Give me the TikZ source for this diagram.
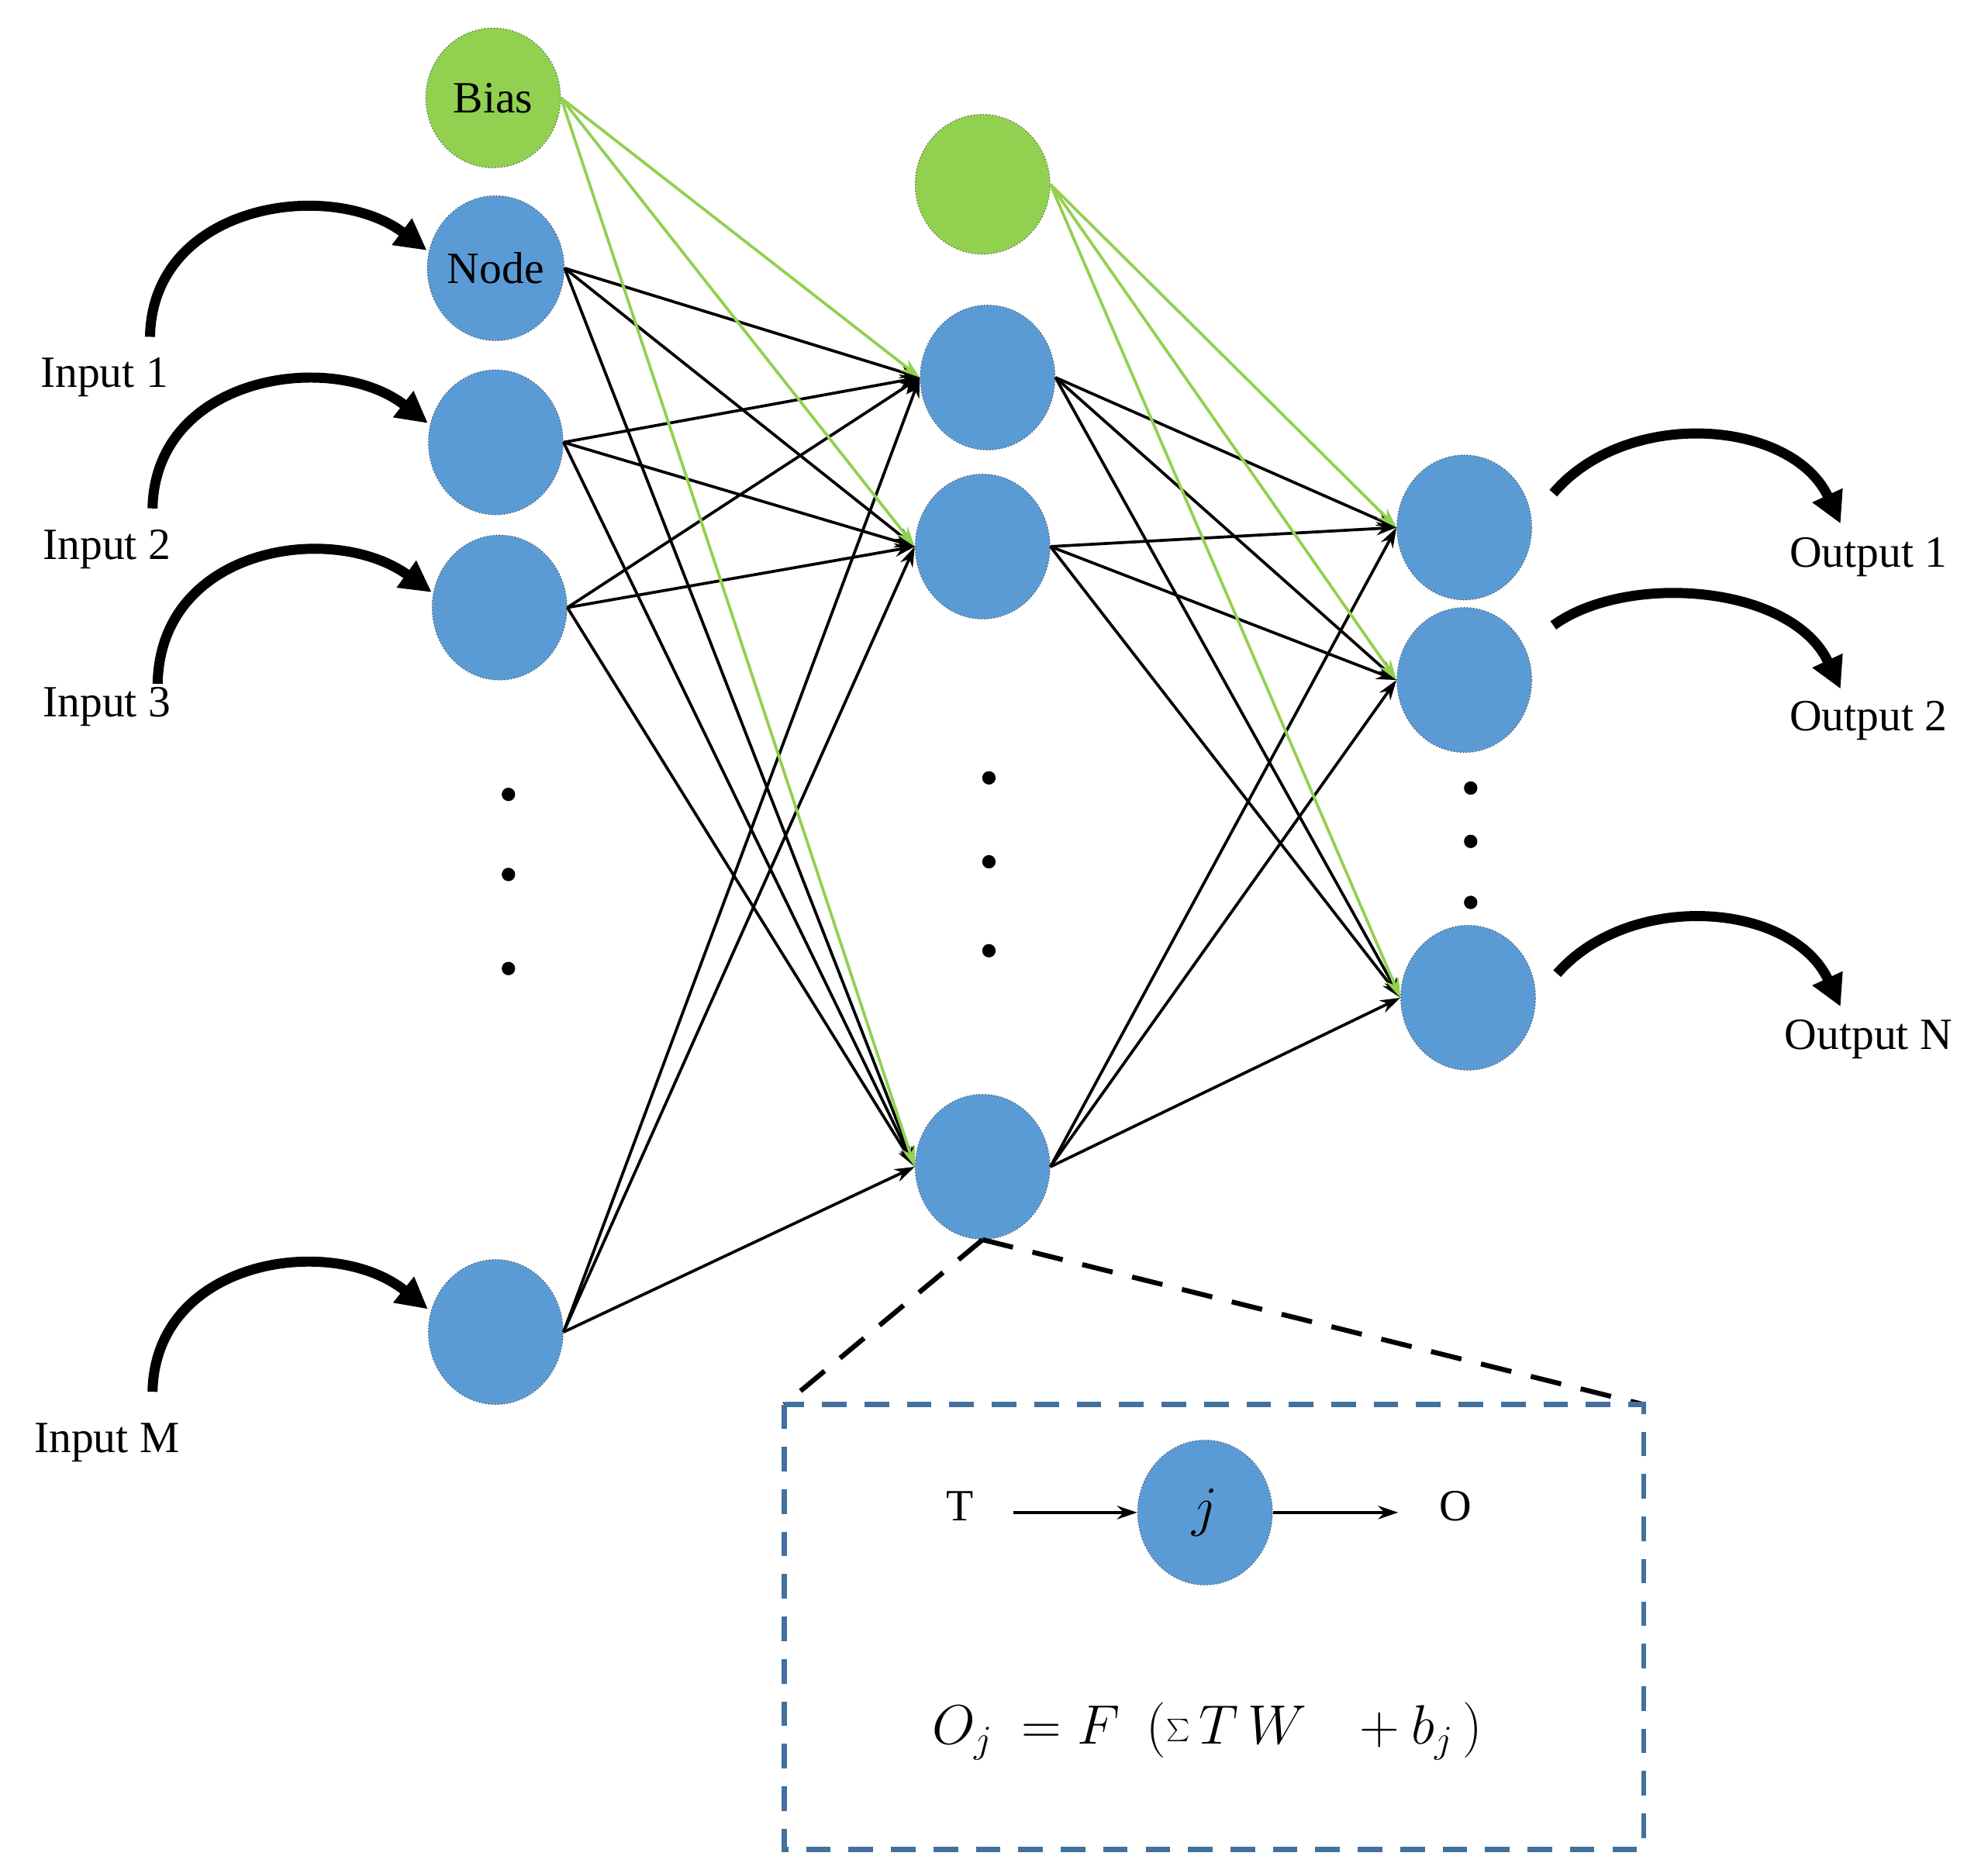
\documentclass[tikz,border=0pt]{standalone}
\usepackage{fontspec}
\setmainfont{Liberation Serif}
\usetikzlibrary{arrows.meta}
\definecolor{nblue}{HTML}{5B9BD5}
\definecolor{ngreen}{HTML}{92D050}
\definecolor{rblue}{HTML}{41719C}
\begin{document}
\begin{tikzpicture}[x=0.02cm,y=-0.02cm,
 neu/.style={ellipse,draw=black!70,densely dotted,line width=0.4pt,fill=nblue,minimum width=106*0.02cm,minimum height=114*0.02cm,inner sep=0pt,font=\fontsize{20}{24}\selectfont},
 bia/.style={neu,fill=ngreen,minimum height=110*0.02cm},
 lab/.style={font=\fontsize{20}{24}\selectfont},
 blk/.style={-{Stealth[length=9pt,width=6pt]},line width=1.3pt},
 grn/.style={-{Stealth[length=9pt,width=6pt]},line width=1.3pt,ngreen},
 curv/.style={-{Triangle[length=14pt,width=14pt]},line width=4.5pt},
 dot/.style={circle,fill=black,inner sep=0pt,minimum size=6pt}]
\useasboundingbox (0,0) rectangle (1564,1471);
\usetikzlibrary{shapes.geometric}
% input layer
\node[bia] (b1) at (388,77) {Bias};
\node[neu] (i1) at (390,211) {Node};
\node[neu] (i2) at (390,348) {};
\node[neu] (i3) at (393,478) {};
\node[neu] (iM) at (390,1048) {};
\node[dot] (d1) at (400,625) {};\node[dot] (d2) at (400,688) {};\node[dot] (d3) at (400,762) {};
% hidden
\node[bia] (b2) at (773,145) {};
\node[neu] (h1) at (777,297) {};
\node[neu] (h2) at (773,430) {};
\node[neu] (h3) at (773,918) {};
\node[dot] (e1) at (778,612) {};\node[dot] (e2) at (778,678) {};\node[dot] (e3) at (778,748) {};
% output
\node[neu] (o1) at (1152,415) {};
\node[neu] (o2) at (1152,535) {};
\node[neu] (o3) at (1155,785) {};
\node[dot] (f1) at (1157,620) {};\node[dot] (f2) at (1157,662) {};\node[dot] (f3) at (1157,710) {};
% edges
\foreach \s in {i1,i2,i3,iM}{\foreach \t in {h1,h2,h3}{\draw[blk] (\s.east) -- (\t.west);}}
\foreach \s in {h1,h2,h3}{\foreach \t in {o1,o2,o3}{\draw[blk] (\s.east) -- (\t.west);}}
\foreach \t in {h1,h2,h3}{\draw[grn] (b1.east) -- (\t.west);}
\foreach \t in {o1,o2,o3}{\draw[grn] (b2.east) -- (\t.west);}
% labels
\node[lab] (l1) at (82,297) {Input 1};
\node[lab] (l2) at (84,432) {Input 2};
\node[lab] (l3) at (84,556) {Input 3};
\node[lab] (lM) at (84,1135) {Input M};
\node[lab] (q1) at (1470,438) {Output 1};
\node[lab] (q2) at (1470,567) {Output 2};
\node[lab] (q3) at (1470,818) {Output N};
% input curved arrows
\coordinate (a1) at (118,265);\coordinate (a2) at (120,400);\coordinate (a3) at (124,538);\coordinate (a4) at (120,1095);
\draw[curv] (a1) .. controls (120,160) and (260,140) .. (i1.west |- 0,197);
\draw[curv] (a2) .. controls (122,295) and (262,275) .. (i2.west |- 0,333);
\draw[curv] (a3) .. controls (126,430) and (262,410) .. (i3.west |- 0,466);
\draw[curv] (a4) .. controls (122,990) and (262,970) .. (iM.west |- 0,1030);
% output curved arrows
\coordinate (c1) at (1222,388);\coordinate (c2) at (1222,492);\coordinate (c3) at (1225,766);
\coordinate (t1) at (1448,412);\coordinate (t2) at (1448,542);\coordinate (t3) at (1448,792);
\draw[curv] (c1) .. controls (1280,320) and (1410,330) .. (t1);
\draw[curv] (c2) .. controls (1280,450) and (1410,460) .. (t2);
\draw[curv] (c3) .. controls (1283,700) and (1410,710) .. (t3);
% zoom box
\coordinate (zl) at (617,1105);\coordinate (zr) at (1293,1105);
\draw[line width=2.2pt,dash pattern=on 14pt off 9pt] (h3.south) -- (zl);
\draw[line width=2.2pt,dash pattern=on 14pt off 9pt] (h3.south) -- (zr);
\draw[rblue,line width=2.2pt,dash pattern=on 11pt off 8pt] (617,1105) rectangle (1293,1455);
\node[neu] (j) at (948,1190) {\fontsize{24}{28}\selectfont$j$};
\node[lab] (T) at (755,1185) {T};
\node[lab] (O) at (1145,1185) {O};
\draw[blk,line width=1.5pt] (797,1190) -- (j.west);
\draw[blk,line width=1.5pt] (j.east) -- (1100,1190);
\node[lab,font=\fontsize{24}{28}\selectfont] (fm) at (950,1362) {$O_{j}\ =F\ \ (\sum T\,W\ \ \ +b_{j}\,)$};
\end{tikzpicture}
\end{document}
